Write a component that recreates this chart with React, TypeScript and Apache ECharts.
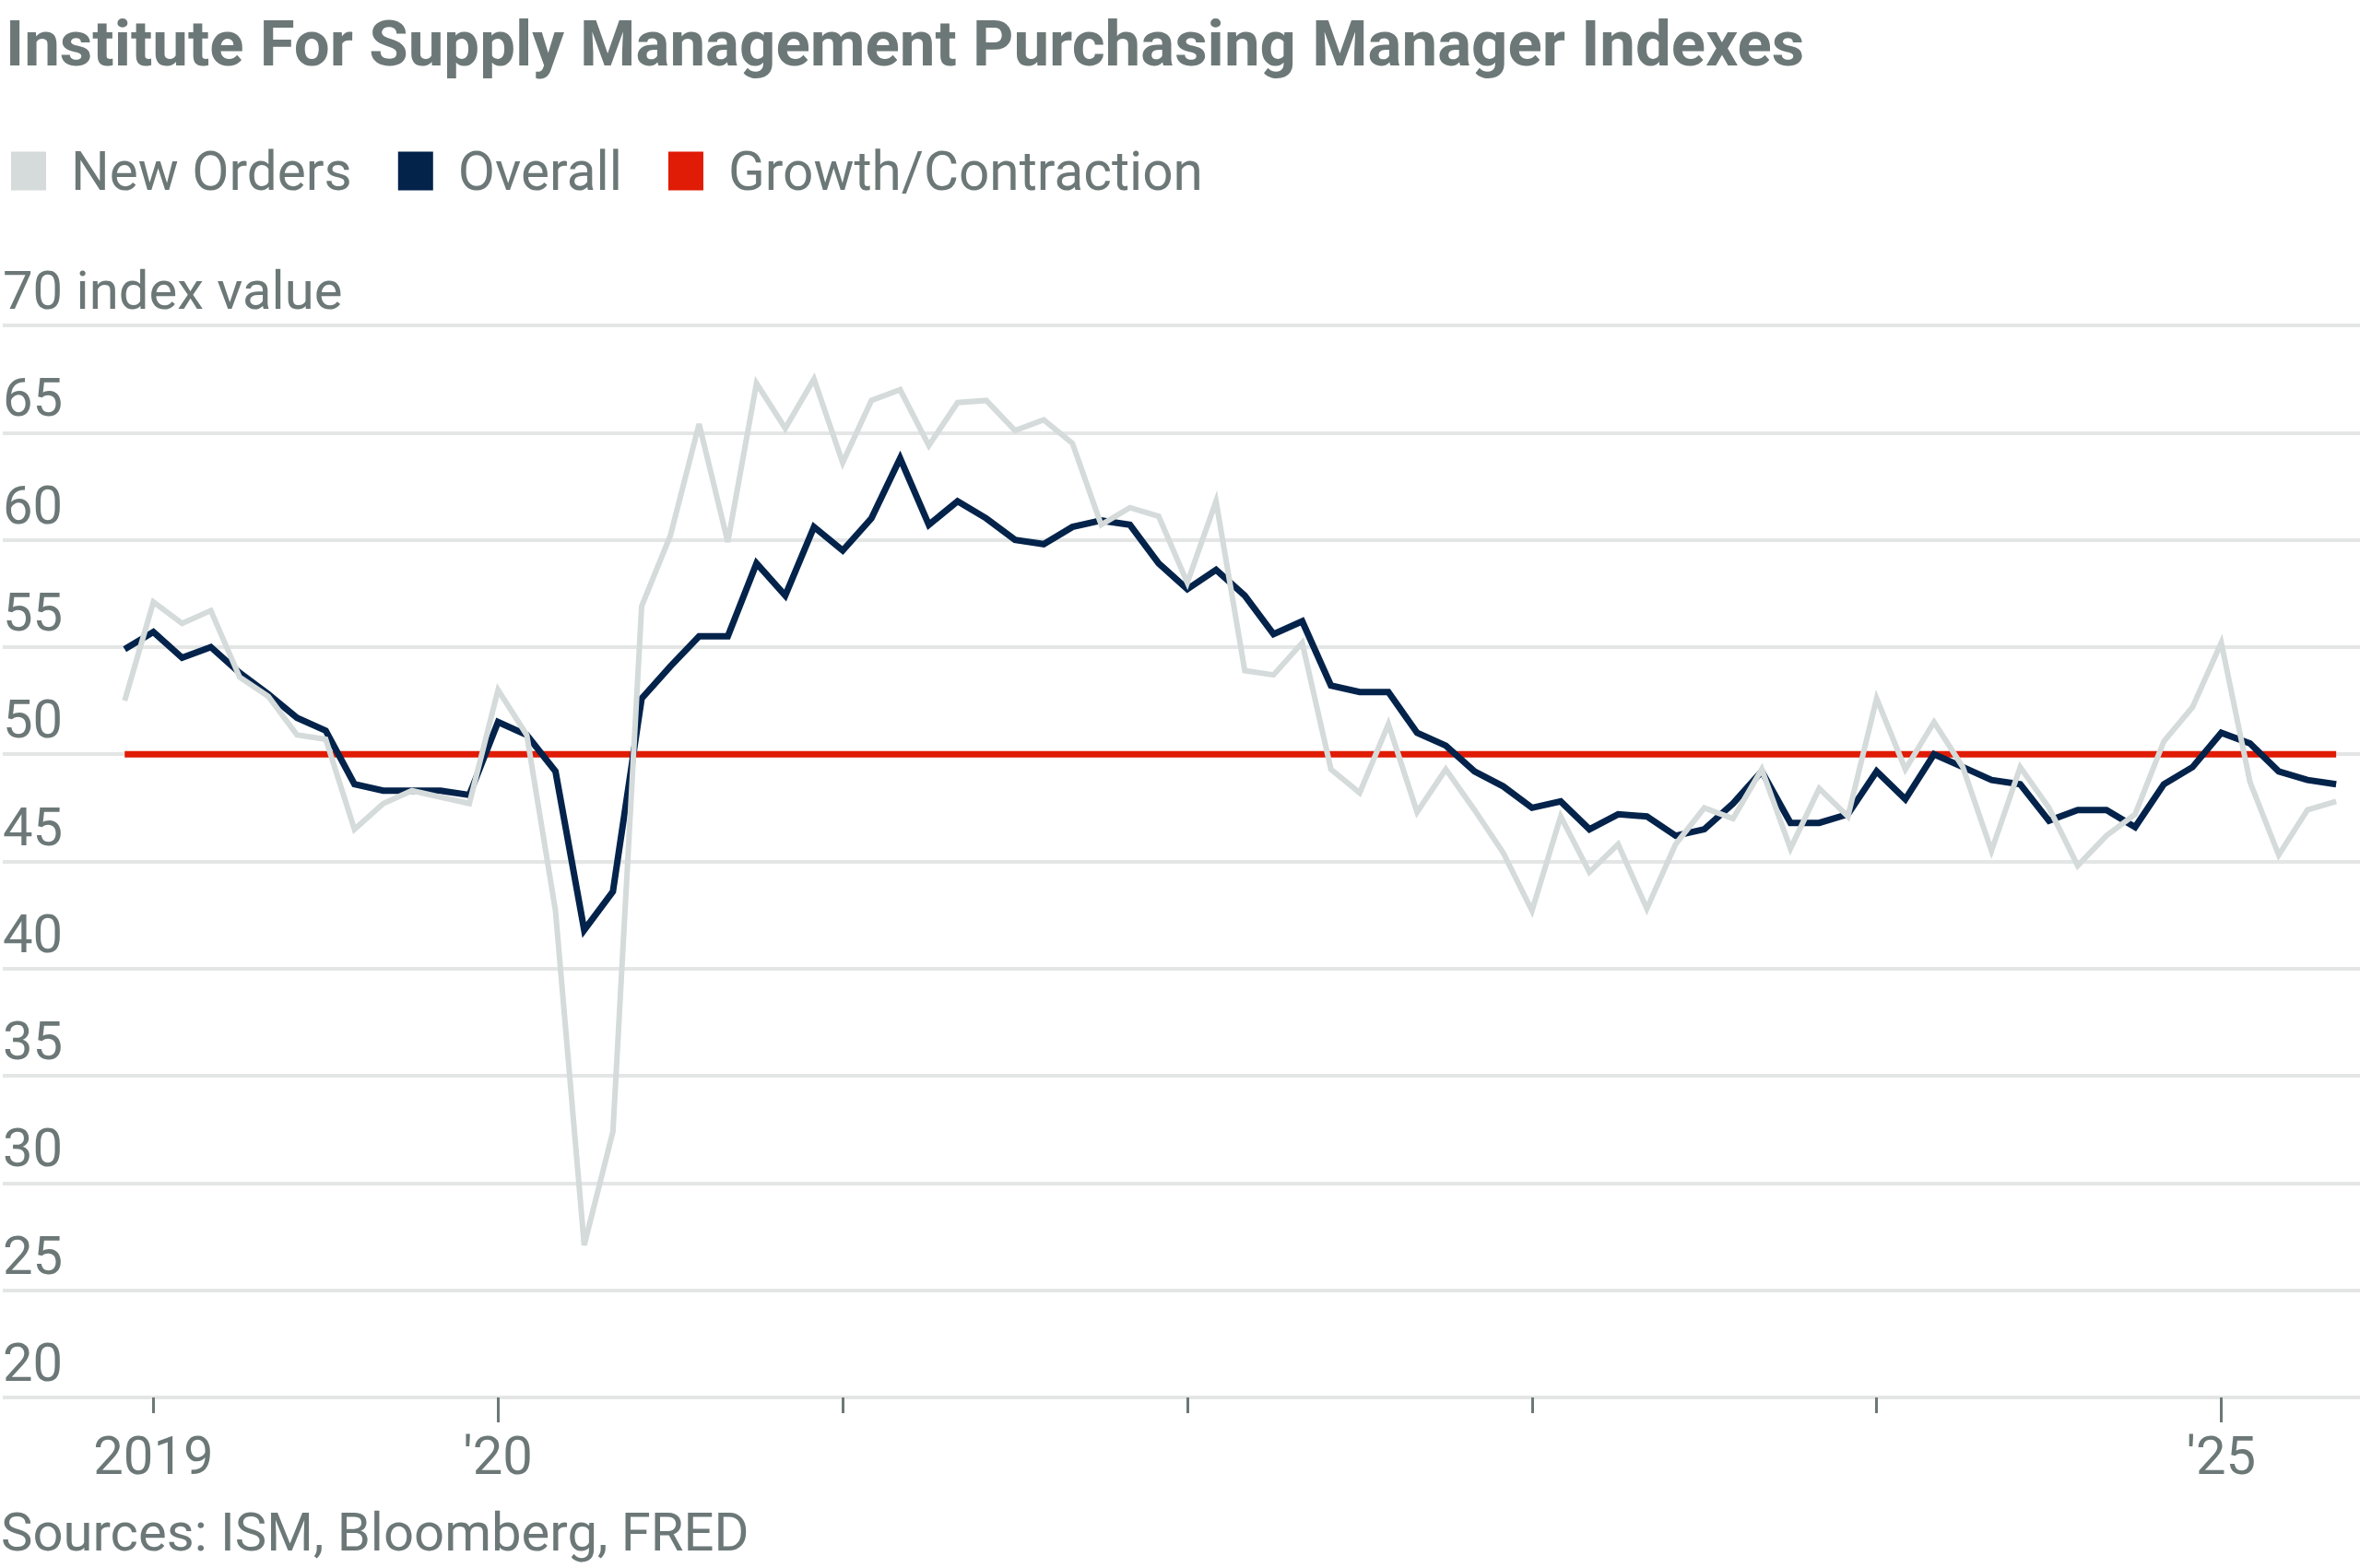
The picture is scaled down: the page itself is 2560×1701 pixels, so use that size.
import React, { useEffect, useRef } from 'react';
import * as echarts from 'echarts';

// Monthly observations, Dec 2018 .. May 2025 (78 months)
const startYear = 2018;
const startMonth = 11; // December (0-based)
const overall = [
  54.9, 55.7, 54.5, 55.0, 53.8, 52.8, 51.7, 51.1, 48.6, 48.3, 48.3, 48.3, 48.1,
  51.5, 50.9, 49.2, 41.8, 43.6, 52.6, 54.1, 55.5, 55.5, 58.9, 57.4, 60.6,
  59.5, 61.0, 63.8, 60.7, 61.8, 61.0, 60.0, 59.8, 60.6, 60.9, 60.7, 58.9,
  57.7, 58.6, 57.4, 55.6, 56.2, 53.2, 52.9, 52.9, 51.0, 50.4, 49.2, 48.5,
  47.5, 47.8, 46.5, 47.2, 47.1, 46.2, 46.5, 47.7, 49.2, 46.8, 46.8, 47.2,
  49.2, 47.9, 50.0, 49.4, 48.8, 48.6, 46.9, 47.4, 47.4, 46.6, 48.6, 49.4,
  51.0, 50.5, 49.2, 48.8, 48.6,
];
const newOrders = [
  52.5, 57.1, 56.1, 56.7, 53.6, 52.7, 50.9, 50.7, 46.5, 47.7, 48.3, 48.0, 47.7,
  53.0, 50.9, 42.7, 27.1, 32.4, 56.9, 60.2, 65.4, 59.9, 67.3, 65.2, 67.5,
  63.6, 66.5, 67.0, 64.4, 66.4, 66.5, 65.1, 65.6, 64.5, 60.7, 61.5, 61.1,
  58.0, 61.8, 53.9, 53.7, 55.2, 49.3, 48.2, 51.4, 47.3, 49.3, 47.4, 45.4,
  42.7, 47.1, 44.5, 45.8, 42.8, 45.8, 47.5, 47.0, 49.3, 45.6, 48.4, 47.1,
  52.6, 49.3, 51.5, 49.4, 45.5, 49.4, 47.5, 44.8, 46.2, 47.2, 50.6, 52.2,
  55.2, 48.7, 45.3, 47.4, 47.8,
];
const growthThreshold = 50;

// Axis ticks (month index of each January) and labels
const yearTickIndex = [1, 13, 25, 37, 49, 61, 73];
const labeledTickIndex = [1, 13, 73];
const labeledTickText = ['2019', "'20", "'25"];
const yTicks = { min: 20, max: 70, step: 5 };

const TEXT = '#6c7877';
const FONT = 'Roboto, "Noto Sans", sans-serif';

const monthLabels = overall.map((_, i) => {
  const m = startMonth + i;
  const y = startYear + Math.floor(m / 12);
  return `${y}-${String((m % 12) + 1).padStart(2, '0')}`;
});

export default function App() {
  const ref = useRef<HTMLDivElement>(null);
  useEffect(() => {
    document.body.style.margin = '0';
    const chart = echarts.init(ref.current!, null, { renderer: 'svg' });
    const xMin = -4.245;
    const xMax = 77.83;
    const option: any = {
      animation: false,
      backgroundColor: '#ffffff',
      title: {
        text: 'Institute For Supply Management Purchasing Manager Indexes',
        left: 1,
        top: 8,
        textStyle: { fontSize: 69, fontWeight: 'bold', color: TEXT, fontFamily: FONT },
      },
      legend: {
        left: 7,
        top: 151,
        icon: 'rect',
        itemWidth: 38,
        itemHeight: 42,
        itemGap: 50,
        data: ['New Orders', 'Overall', 'Growth/Contraction'],
        textStyle: { fontSize: 58.5, color: TEXT, fontFamily: FONT, padding: [0, 0, 0, 22] },
      },
      grid: { left: 0, right: 0, top: 353, bottom: 185, containLabel: false },
      xAxis: [
        {
          type: 'value',
          min: xMin,
          max: xMax,
          position: 'bottom',
          axisLine: { show: false },
          splitLine: { show: false },
          axisTick: {
            show: true,
            customValues: yearTickIndex,
            length: 17,
            lineStyle: { color: TEXT, width: 3 },
          },
          axisLabel: {
            show: true,
            customValues: labeledTickIndex,
            formatter: (v: number) => {
              const k = labeledTickIndex.indexOf(Math.round(v));
              return k >= 0 ? labeledTickText[k] : '';
            },
            margin: 34,
            fontSize: 58,
            color: TEXT,
            fontFamily: FONT,
          },
        },
        {
          type: 'value',
          min: xMin,
          max: xMax,
          position: 'bottom',
          axisLine: { show: false },
          splitLine: { show: false },
          axisTick: {
            show: true,
            customValues: [13, 73],
            length: 27,
            lineStyle: { color: TEXT, width: 3 },
          },
          axisLabel: { show: false },
        },
      ],
      yAxis: {
        type: 'value',
        min: yTicks.min,
        max: yTicks.max,
        interval: yTicks.step,
        axisLine: { show: false },
        axisTick: { show: false },
        splitLine: { show: true, lineStyle: { color: '#e4e6e6', width: 4 } },
        axisLabel: {
          inside: true,
          margin: 0,
          verticalAlign: 'bottom',
          padding: [0, 0, 9, 0],
          fontSize: 58,
          color: TEXT,
          fontFamily: FONT,
          showMinLabel: true,
          showMaxLabel: true,
          formatter: (v: number) => (v === yTicks.max ? `${v} index value` : String(v)),
        },
      },
      series: [
        {
          name: 'New Orders',
          type: 'line',
          z: 4,
          showSymbol: false,
          color: '#d4dbda',
          lineStyle: { color: '#d4dbda', width: 6, join: 'miter' },
          data: newOrders.map((v, i) => [i, v]),
        },
        {
          name: 'Overall',
          type: 'line',
          z: 3,
          showSymbol: false,
          color: '#03234b',
          lineStyle: { color: '#03234b', width: 7, join: 'miter' },
          data: overall.map((v, i) => [i, v]),
        },
        {
          name: 'Growth/Contraction',
          type: 'line',
          z: 2,
          showSymbol: false,
          color: '#e01b06',
          lineStyle: { color: '#e01b06', width: 7 },
          data: monthLabels.map((_, i) => [i, growthThreshold]),
        },
      ],
      graphic: [
        {
          type: 'text',
          left: 1,
          top: 1633,
          style: { text: 'Sources: ISM, Bloomberg, FRED', fontSize: 58, fill: TEXT, fontFamily: FONT },
        },
      ],
    };
    chart.setOption(option);
    return () => chart.dispose();
  }, []);
  return (
    <div
      ref={ref}
      style={{ position: 'absolute', left: 0, top: 0, width: 2560, height: 1701, background: '#fff' }}
    />
  );
}
